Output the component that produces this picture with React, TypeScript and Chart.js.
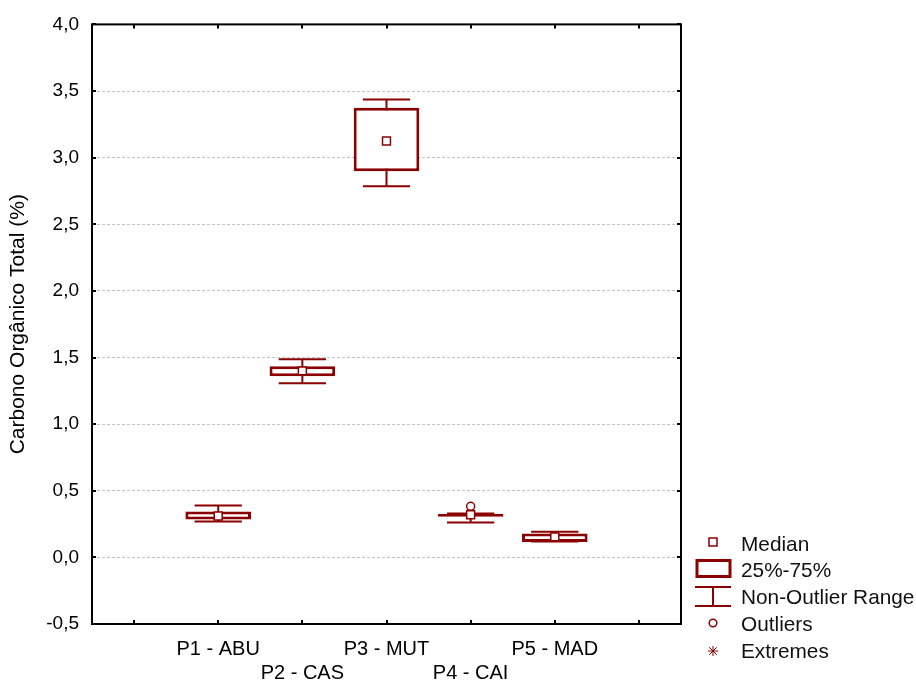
import React, { useEffect, useRef } from "react";
import { Chart, registerables } from "chart.js";

Chart.register(...registerables);

// ---- data ----
const categories = ["P1 - ABU", "P2 - CAS", "P3 - MUT", "P4 - CAI", "P5 - MAD"];
const minVals = [0.27, 1.307, 2.785, 0.262, 0.12];
const q1Vals = [0.285, 1.36, 2.898, 0.305, 0.115];
const medianVals = [0.31, 1.40, 3.125, 0.32, 0.154];
const q3Vals = [0.345, 1.435, 3.375, 0.325, 0.18];
const maxVals = [0.39, 1.487, 3.436, 0.33, 0.192];
const outlierVals = [null, null, null, 0.383, null];
const yMin = -0.5;
const yMax = 4.0;
const yStep = 0.5;
const yTitle = "Carbono Orgânico Total (%)";
const legendLabels = ["Median", "25%-75%", "Non-Outlier Range", "Outliers", "Extremes"];

const BOX_COLOR = "#8b0000";
const FONT = "'Liberation Sans', Arial, sans-serif";

// padded category axis: empty slot at each end, staggered labels
const axisLabels: (string | string[])[] = [
  "",
  ...categories.map((c, i) => (i % 2 === 0 ? c : ["", c])),
  "",
];
const pad = (arr: (number | null)[]) => [null, ...arr, null];

const whiskerPlugin = {
  id: "whiskers",
  beforeDatasetsDraw(chart: any) {
    const { ctx, scales } = chart;
    const x = scales.x;
    const y = scales.y;
    const barMeta = chart.getDatasetMeta(2);
    ctx.save();
    ctx.strokeStyle = BOX_COLOR;
    ctx.lineWidth = 2;
    categories.forEach((_, i) => {
      const idx = i + 1;
      const el = barMeta.data[idx];
      const cx = x.getPixelForValue(idx);
      const half = (el ? el.width : 60) * 0.36;
      const pMax = y.getPixelForValue(maxVals[i]);
      const pMin = y.getPixelForValue(minVals[i]);
      ctx.beginPath();
      ctx.moveTo(cx, pMax);
      ctx.lineTo(cx, pMin);
      ctx.moveTo(cx - half, pMax);
      ctx.lineTo(cx + half, pMax);
      ctx.moveTo(cx - half, pMin);
      ctx.lineTo(cx + half, pMin);
      ctx.stroke();
    });
    ctx.restore();
  },
  afterDraw(chart: any) {
    const { ctx, chartArea, scales } = chart;
    const { left, right, top, bottom } = chartArea;
    ctx.save();
    // frame
    ctx.strokeStyle = "#000";
    ctx.lineWidth = 2;
    ctx.strokeRect(left, top, right - left, bottom - top);
    // inward ticks
    ctx.lineWidth = 2;
    ctx.beginPath();
    scales.y.ticks.forEach((t: any) => {
      const py = Math.round(scales.y.getPixelForValue(t.value));
      ctx.moveTo(left, py);
      ctx.lineTo(left + 4, py);
      ctx.moveTo(right, py);
      ctx.lineTo(right - 4, py);
    });
    scales.x.ticks.forEach((_: any, i: number) => {
      const px = Math.round(scales.x.getPixelForTick(i));
      ctx.moveTo(px, bottom);
      ctx.lineTo(px, bottom - 4);
      ctx.moveTo(px, top);
      ctx.lineTo(px, top + 4);
    });
    ctx.stroke();

    // legend
    const lx = 713;
    const tx = 741;
    const rows = [544, 570, 596.5, 624, 651];
    ctx.font = `20.8px ${FONT}`;
    ctx.fillStyle = "#111";
    ctx.textBaseline = "alphabetic";
    ctx.textAlign = "left";
    legendLabels.forEach((lab, i) => {
      ctx.fillText(lab, tx, rows[i] + 7.4);
    });
    ctx.strokeStyle = BOX_COLOR;
    // median square
    ctx.lineWidth = 1.5;
    ctx.fillStyle = "#fff";
    ctx.beginPath();
    ctx.rect(lx - 4, rows[0] - 4 - 2, 8, 8);
    ctx.fill();
    ctx.stroke();
    // box
    ctx.lineWidth = 3;
    ctx.strokeRect(697, 560.5, 33, 16);
    // whisker
    ctx.lineWidth = 2;
    ctx.beginPath();
    ctx.moveTo(695, 587);
    ctx.lineTo(731, 587);
    ctx.moveTo(695, 606);
    ctx.lineTo(731, 606);
    ctx.moveTo(lx, 587);
    ctx.lineTo(lx, 606);
    ctx.stroke();
    // outlier circle
    ctx.lineWidth = 1.5;
    ctx.beginPath();
    ctx.arc(lx, 623, 3.8, 0, Math.PI * 2);
    ctx.stroke();
    // extremes asterisk
    ctx.lineWidth = 1;
    const ay = 651;
    const r = 5;
    ctx.beginPath();
    ctx.moveTo(lx - r, ay);
    ctx.lineTo(lx + r, ay);
    ctx.moveTo(lx, ay - r);
    ctx.lineTo(lx, ay + r);
    ctx.moveTo(lx - r * 0.75, ay - r * 0.75);
    ctx.lineTo(lx + r * 0.75, ay + r * 0.75);
    ctx.moveTo(lx - r * 0.75, ay + r * 0.75);
    ctx.lineTo(lx + r * 0.75, ay - r * 0.75);
    ctx.stroke();
    ctx.restore();
  },
};

export default function App() {
  const ref = useRef<HTMLCanvasElement>(null);
  useEffect(() => {
    if (!ref.current) return;
    const chart = new Chart(ref.current, {
      type: "bar",
      data: {
        labels: axisLabels as any,
        datasets: [
          {
            type: "line",
            label: "Median",
            data: pad(medianVals) as any,
            showLine: false,
            pointStyle: "rect",
            pointRadius: 5.6,
            pointBackgroundColor: "#fff",
            pointBorderColor: BOX_COLOR,
            pointBorderWidth: 1.5,
            order: 0,
          } as any,
          {
            type: "line",
            label: "Outliers",
            data: pad(outlierVals) as any,
            showLine: false,
            pointStyle: "circle",
            pointRadius: 4,
            pointBackgroundColor: "rgba(255,255,255,0)",
            pointBorderColor: BOX_COLOR,
            pointBorderWidth: 1.5,
            order: 1,
          } as any,
          {
            type: "bar",
            label: "25%-75%",
            data: [null, ...categories.map((_, i) => [q1Vals[i], q3Vals[i]]), null] as any,
            backgroundColor: "#fff",
            borderColor: BOX_COLOR,
            borderWidth: 3,
            borderSkipped: false,
            barPercentage: 1,
            categoryPercentage: 0.78,
            order: 2,
          } as any,
        ],
      },
      options: {
        animation: false,
        responsive: true,
        maintainAspectRatio: false,
        layout: { padding: { left: 0, top: 24, right: 235, bottom: 0 } },
        plugins: {
          legend: { display: false },
          tooltip: { enabled: false },
        },
        scales: {
          x: {
            type: "category",
            offset: true,
            grid: { display: false, drawTicks: false },
            border: { display: false },
            ticks: {
              autoSkip: false,
              maxRotation: 0,
              minRotation: 0,
              padding: 13,
              color: "#000",
              font: { family: FONT, size: 20 },
            },
            afterFit: (s: any) => {
              s.height = 56;
            },
          },
          y: {
            type: "linear",
            min: yMin,
            max: yMax,
            grid: { color: "#c4c4c4", lineWidth: 1, drawTicks: false },
            border: { display: false, dash: [3, 2] },
            ticks: {
              stepSize: yStep,
              padding: 13,
              color: "#000",
              font: { family: FONT, size: 19 },
              callback: (v: any) => Number(v).toFixed(1).replace(".", ","),
            },
            title: {
              display: true,
              text: yTitle,
              color: "#000",
              font: { family: FONT, size: 21 },
              padding: { top: 6, bottom: 0 },
            },
            afterFit: (s: any) => {
              s.width = 92;
            },
          },
        },
      },
      plugins: [whiskerPlugin],
    });
    return () => chart.destroy();
  }, []);
  return (
    <div style={{ position: "absolute", left: 0, top: 0, width: 916, height: 680, background: "#fff" }}>
      <canvas ref={ref} />
    </div>
  );
}
